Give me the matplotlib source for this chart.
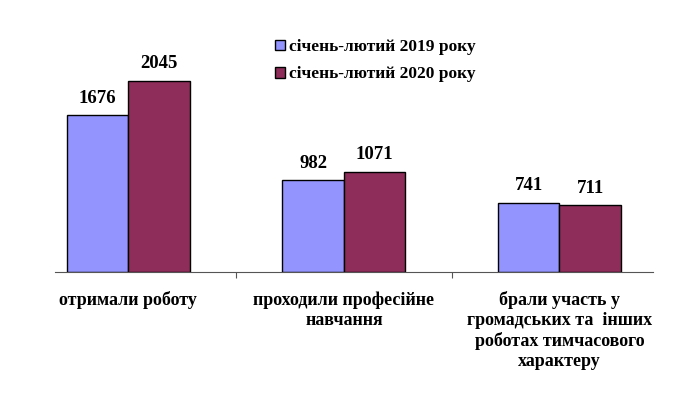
import matplotlib
matplotlib.use("Agg")
import matplotlib.pyplot as plt
import numpy as np

categories = ["отримали роботу", "проходили професійне\nнавчання",
              "брали участь у\nгромадських та  інших\nроботах тимчасового\nхарактеру"]
series_names = ["січень-лютий 2019 року", "січень-лютий 2020 року"]
values_2019 = [1676, 982, 741]
values_2020 = [2045, 1071, 711]
colors = ["#9494FF", "#8E2C5A"]

plt.rcParams['font.family'] = ['Liberation Serif', 'DejaVu Serif']

fig = plt.figure(figsize=(6.9, 3.93), dpi=100)
ax = fig.add_axes([20.5/690, (393-272)/393, 646.8/690, 252/393])

x = np.arange(len(categories))
w = 0.285
b1 = ax.bar(x - w/2, values_2019, w, color=colors[0], edgecolor="black", linewidth=1.0, label=series_names[0])
b2 = ax.bar(x + w/2, values_2020, w, color=colors[1], edgecolor="black", linewidth=1.0, label=series_names[1])

for bars in (b1, b2):
    ax.bar_label(bars, labels=[str(v) for v in bars.datavalues], padding=6,
                 fontsize=13.5, fontweight="bold")

ax.set_xlim(-0.5, 2.5)
ax.set_ylim(0, 2694)
for s in ("left", "right", "top"):
    ax.spines[s].set_visible(False)
ax.spines["bottom"].set_bounds(-0.34, 2.434)
ax.spines["bottom"].set_color("#555555")
ax.set_yticks([])
ax.set_xticks([0.5, 1.5])
ax.set_xticklabels([])
ax.tick_params(axis="x", direction="out", length=4, color="#555555")

for xi, lab in zip(x, categories):
    ax.annotate(lab, xy=(xi, 0), xycoords="data", xytext=(0, -14), textcoords="offset points",
                ha="center", va="top", fontsize=13, fontweight="bold", linespacing=1.22)

leg = ax.legend(loc="upper left", bbox_to_anchor=(275/690, 1 - 39/393), bbox_transform=fig.transFigure,
                frameon=False, prop={"weight": "bold", "size": 12.5},
                handlelength=0.55, handleheight=0.55, handletextpad=0.25, labelspacing=0.66,
                borderpad=0, borderaxespad=0)

fig.savefig("out.png", dpi=100)
